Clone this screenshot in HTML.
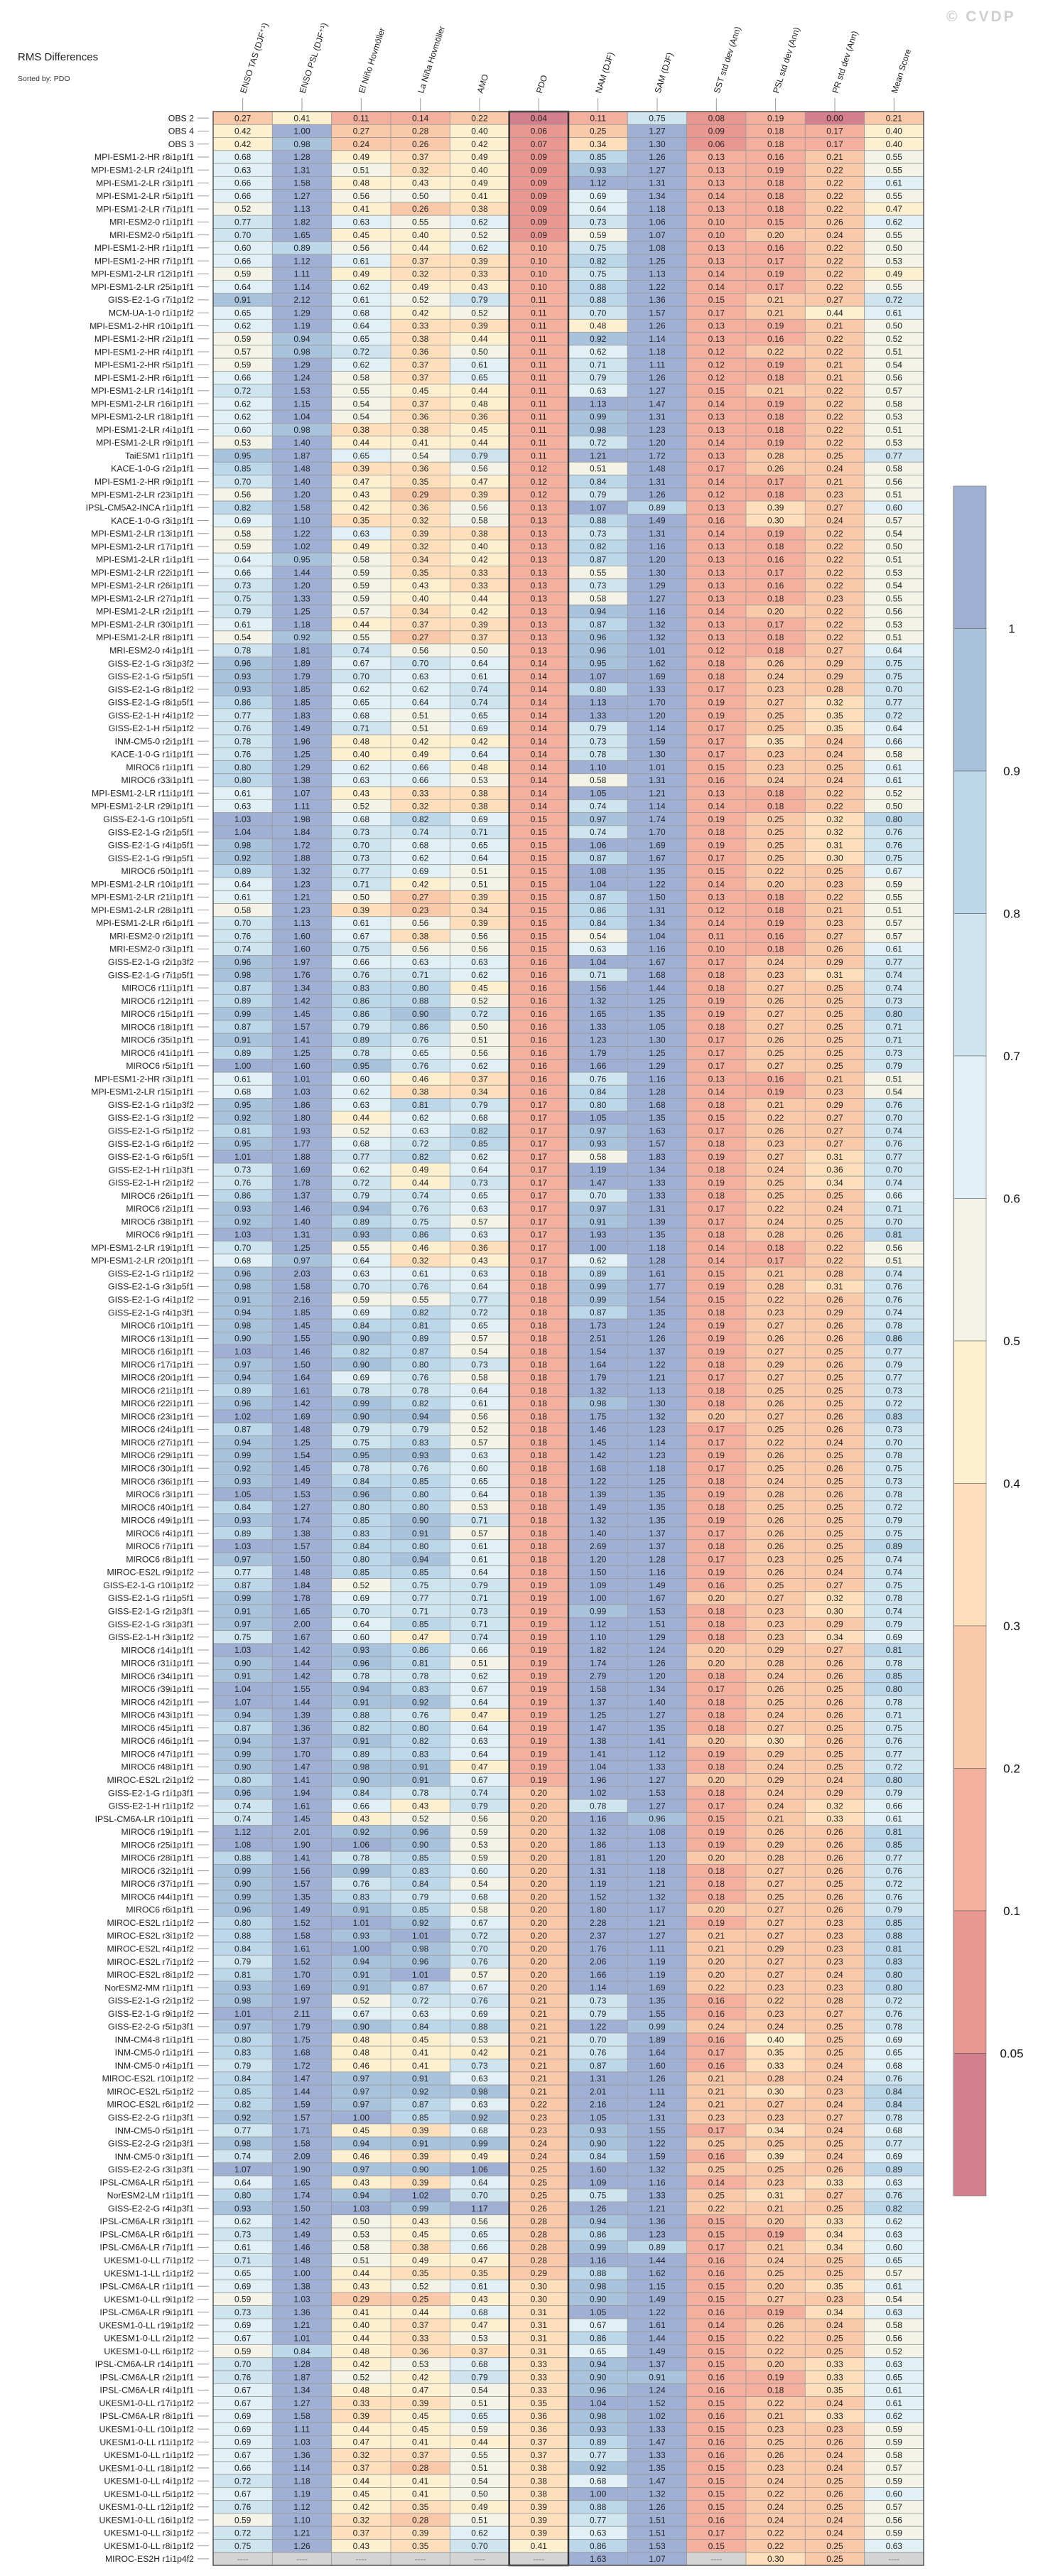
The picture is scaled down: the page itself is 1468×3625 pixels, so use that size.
<!DOCTYPE html>
<html>
<head>
<meta charset="utf-8">
<style>
  html,body{margin:0;padding:0;background:#fff;}
  body{width:1468px;height:3620px;overflow:hidden;font-family:"Liberation Sans",sans-serif;}
  svg text{font-family:"Liberation Sans",sans-serif;}
</style>
</head>
<body>
<svg id="chart" width="1468" height="3620" viewBox="0 0 1468 3620" xmlns="http://www.w3.org/2000/svg">
  <text x="25" y="85" font-size="15" fill="#222">RMS Differences</text>
  <text x="25" y="114" font-size="10.5" fill="#333">Sorted by: PDO</text>
  <text x="1332" y="30" font-size="21" font-weight="bold" fill="#cfcfcf" letter-spacing="3">© CVDP</text>
  <g id="header"></g>
  <g id="labels"></g>
  <g id="cells"></g>
  <g id="colorbar"></g>
</svg>
<script>
const columnLabels = ["ENSO TAS (DJF\u207A\u00B9)","ENSO PSL (DJF\u207A\u00B9)","El Ni\u00F1o Hovm\u00F6ller","La Ni\u00F1a Hovm\u00F6ller","AMO","PDO","NAM (DJF)","SAM (DJF)","SST std dev (Ann)","PSL std dev (Ann)","PR std dev (Ann)","Mean Score"];
const rowLabels = [
"OBS 2","OBS 4","OBS 3","MPI-ESM1-2-HR r8i1p1f1","MPI-ESM1-2-LR r24i1p1f1","MPI-ESM1-2-LR r3i1p1f1","MPI-ESM1-2-LR r5i1p1f1","MPI-ESM1-2-LR r7i1p1f1","MRI-ESM2-0 r1i1p1f1","MRI-ESM2-0 r5i1p1f1",
"MPI-ESM1-2-HR r1i1p1f1","MPI-ESM1-2-HR r7i1p1f1","MPI-ESM1-2-LR r12i1p1f1","MPI-ESM1-2-LR r25i1p1f1","GISS-E2-1-G r7i1p1f2","MCM-UA-1-0 r1i1p1f2","MPI-ESM1-2-HR r10i1p1f1","MPI-ESM1-2-HR r2i1p1f1","MPI-ESM1-2-HR r4i1p1f1","MPI-ESM1-2-HR r5i1p1f1",
"MPI-ESM1-2-HR r6i1p1f1","MPI-ESM1-2-LR r14i1p1f1","MPI-ESM1-2-LR r16i1p1f1","MPI-ESM1-2-LR r18i1p1f1","MPI-ESM1-2-LR r4i1p1f1","MPI-ESM1-2-LR r9i1p1f1","TaiESM1 r1i1p1f1","KACE-1-0-G r2i1p1f1","MPI-ESM1-2-HR r9i1p1f1","MPI-ESM1-2-LR r23i1p1f1",
"IPSL-CM5A2-INCA r1i1p1f1","KACE-1-0-G r3i1p1f1","MPI-ESM1-2-LR r13i1p1f1","MPI-ESM1-2-LR r17i1p1f1","MPI-ESM1-2-LR r1i1p1f1","MPI-ESM1-2-LR r22i1p1f1","MPI-ESM1-2-LR r26i1p1f1","MPI-ESM1-2-LR r27i1p1f1","MPI-ESM1-2-LR r2i1p1f1","MPI-ESM1-2-LR r30i1p1f1",
"MPI-ESM1-2-LR r8i1p1f1","MRI-ESM2-0 r4i1p1f1","GISS-E2-1-G r3i1p3f2","GISS-E2-1-G r5i1p5f1","GISS-E2-1-G r8i1p1f2","GISS-E2-1-G r8i1p5f1","GISS-E2-1-H r4i1p1f2","GISS-E2-1-H r5i1p1f2","INM-CM5-0 r2i1p1f1","KACE-1-0-G r1i1p1f1",
"MIROC6 r1i1p1f1","MIROC6 r33i1p1f1","MPI-ESM1-2-LR r11i1p1f1","MPI-ESM1-2-LR r29i1p1f1","GISS-E2-1-G r10i1p5f1","GISS-E2-1-G r2i1p5f1","GISS-E2-1-G r4i1p5f1","GISS-E2-1-G r9i1p5f1","MIROC6 r50i1p1f1","MPI-ESM1-2-LR r10i1p1f1",
"MPI-ESM1-2-LR r21i1p1f1","MPI-ESM1-2-LR r28i1p1f1","MPI-ESM1-2-LR r6i1p1f1","MRI-ESM2-0 r2i1p1f1","MRI-ESM2-0 r3i1p1f1","GISS-E2-1-G r2i1p3f2","GISS-E2-1-G r7i1p5f1","MIROC6 r11i1p1f1","MIROC6 r12i1p1f1","MIROC6 r15i1p1f1",
"MIROC6 r18i1p1f1","MIROC6 r35i1p1f1","MIROC6 r41i1p1f1","MIROC6 r5i1p1f1","MPI-ESM1-2-HR r3i1p1f1","MPI-ESM1-2-LR r15i1p1f1","GISS-E2-1-G r1i1p3f2","GISS-E2-1-G r3i1p1f2","GISS-E2-1-G r5i1p1f2","GISS-E2-1-G r6i1p1f2",
"GISS-E2-1-G r6i1p5f1","GISS-E2-1-H r1i1p3f1","GISS-E2-1-H r2i1p1f2","MIROC6 r26i1p1f1","MIROC6 r2i1p1f1","MIROC6 r38i1p1f1","MIROC6 r9i1p1f1","MPI-ESM1-2-LR r19i1p1f1","MPI-ESM1-2-LR r20i1p1f1","GISS-E2-1-G r1i1p1f2",
"GISS-E2-1-G r3i1p5f1","GISS-E2-1-G r4i1p1f2","GISS-E2-1-G r4i1p3f1","MIROC6 r10i1p1f1","MIROC6 r13i1p1f1","MIROC6 r16i1p1f1","MIROC6 r17i1p1f1","MIROC6 r20i1p1f1","MIROC6 r21i1p1f1","MIROC6 r22i1p1f1",
"MIROC6 r23i1p1f1","MIROC6 r24i1p1f1","MIROC6 r27i1p1f1","MIROC6 r29i1p1f1","MIROC6 r30i1p1f1","MIROC6 r36i1p1f1","MIROC6 r3i1p1f1","MIROC6 r40i1p1f1","MIROC6 r49i1p1f1","MIROC6 r4i1p1f1",
"MIROC6 r7i1p1f1","MIROC6 r8i1p1f1","MIROC-ES2L r9i1p1f2","GISS-E2-1-G r10i1p1f2","GISS-E2-1-G r1i1p5f1","GISS-E2-1-G r2i1p3f1","GISS-E2-1-G r3i1p3f1","GISS-E2-1-H r3i1p1f2","MIROC6 r14i1p1f1","MIROC6 r31i1p1f1",
"MIROC6 r34i1p1f1","MIROC6 r39i1p1f1","MIROC6 r42i1p1f1","MIROC6 r43i1p1f1","MIROC6 r45i1p1f1","MIROC6 r46i1p1f1","MIROC6 r47i1p1f1","MIROC6 r48i1p1f1","MIROC-ES2L r2i1p1f2","GISS-E2-1-G r1i1p3f1",
"GISS-E2-1-H r1i1p1f2","IPSL-CM6A-LR r10i1p1f1","MIROC6 r19i1p1f1","MIROC6 r25i1p1f1","MIROC6 r28i1p1f1","MIROC6 r32i1p1f1","MIROC6 r37i1p1f1","MIROC6 r44i1p1f1","MIROC6 r6i1p1f1","MIROC-ES2L r1i1p1f2",
"MIROC-ES2L r3i1p1f2","MIROC-ES2L r4i1p1f2","MIROC-ES2L r7i1p1f2","MIROC-ES2L r8i1p1f2","NorESM2-MM r1i1p1f1","GISS-E2-1-G r2i1p1f2","GISS-E2-1-G r9i1p1f2","GISS-E2-2-G r5i1p3f1","INM-CM4-8 r1i1p1f1","INM-CM5-0 r1i1p1f1",
"INM-CM5-0 r4i1p1f1","MIROC-ES2L r10i1p1f2","MIROC-ES2L r5i1p1f2","MIROC-ES2L r6i1p1f2","GISS-E2-2-G r1i1p3f1","INM-CM5-0 r5i1p1f1","GISS-E2-2-G r2i1p3f1","INM-CM5-0 r3i1p1f1","GISS-E2-2-G r3i1p3f1","IPSL-CM6A-LR r5i1p1f1",
"NorESM2-LM r1i1p1f1","GISS-E2-2-G r4i1p3f1","IPSL-CM6A-LR r3i1p1f1","IPSL-CM6A-LR r6i1p1f1","IPSL-CM6A-LR r7i1p1f1","UKESM1-0-LL r7i1p1f2","UKESM1-1-LL r1i1p1f2","IPSL-CM6A-LR r1i1p1f1","UKESM1-0-LL r9i1p1f2","IPSL-CM6A-LR r9i1p1f1",
"UKESM1-0-LL r19i1p1f2","UKESM1-0-LL r2i1p1f2","UKESM1-0-LL r6i1p1f2","IPSL-CM6A-LR r14i1p1f1","IPSL-CM6A-LR r2i1p1f1","IPSL-CM6A-LR r4i1p1f1","UKESM1-0-LL r17i1p1f2","IPSL-CM6A-LR r8i1p1f1","UKESM1-0-LL r10i1p1f2","UKESM1-0-LL r11i1p1f2",
"UKESM1-0-LL r1i1p1f2","UKESM1-0-LL r18i1p1f2","UKESM1-0-LL r4i1p1f2","UKESM1-0-LL r5i1p1f2","UKESM1-0-LL r12i1p1f2","UKESM1-0-LL r16i1p1f2","UKESM1-0-LL r3i1p1f2","UKESM1-0-LL r8i1p1f2","MIROC-ES2H r1i1p4f2"
];
const cellValues = [
[.27,.41,.11,.14,.22,.04,.11,.75,.08,.19,.00,.21],
[.42,1.00,.27,.28,.40,.06,.25,1.27,.09,.18,.17,.40],
[.42,.98,.24,.26,.42,.07,.34,1.30,.06,.18,.17,.40],
[.68,1.28,.49,.37,.49,.09,.85,1.26,.13,.16,.21,.55],
[.63,1.31,.51,.32,.40,.09,.93,1.27,.13,.19,.22,.55],
[.66,1.58,.48,.43,.49,.09,1.12,1.31,.13,.18,.22,.61],
[.66,1.27,.56,.50,.41,.09,.69,1.34,.14,.18,.22,.55],
[.52,1.13,.41,.26,.38,.09,.64,1.18,.13,.18,.22,.47],
[.77,1.82,.63,.55,.62,.09,.73,1.06,.10,.15,.26,.62],
[.70,1.65,.45,.40,.52,.09,.59,1.07,.10,.20,.24,.55],
[.60,.89,.56,.44,.62,.10,.75,1.08,.13,.16,.22,.50],
[.66,1.12,.61,.37,.39,.10,.82,1.25,.13,.17,.22,.53],
[.59,1.11,.49,.32,.33,.10,.75,1.13,.14,.19,.22,.49],
[.64,1.14,.62,.49,.43,.10,.88,1.22,.14,.17,.22,.55],
[.91,2.12,.61,.52,.79,.11,.88,1.36,.15,.21,.27,.72],
[.65,1.29,.68,.42,.52,.11,.70,1.57,.17,.21,.44,.61],
[.62,1.19,.64,.33,.39,.11,.48,1.26,.13,.19,.21,.50],
[.59,.94,.65,.38,.44,.11,.92,1.14,.13,.16,.22,.52],
[.57,.98,.72,.36,.50,.11,.62,1.18,.12,.22,.22,.51],
[.59,1.29,.62,.37,.61,.11,.71,1.11,.12,.19,.21,.54],
[.66,1.24,.58,.37,.65,.11,.79,1.26,.12,.18,.21,.56],
[.72,1.53,.55,.45,.44,.11,.63,1.27,.15,.21,.22,.57],
[.62,1.15,.54,.37,.48,.11,1.13,1.47,.14,.19,.22,.58],
[.62,1.04,.54,.36,.36,.11,.99,1.31,.13,.18,.22,.53],
[.60,.98,.38,.38,.45,.11,.98,1.23,.13,.18,.22,.51],
[.53,1.40,.44,.41,.44,.11,.72,1.20,.14,.19,.22,.53],
[.95,1.87,.65,.54,.79,.11,1.21,1.72,.13,.28,.25,.77],
[.85,1.48,.39,.36,.56,.12,.51,1.48,.17,.26,.24,.58],
[.70,1.40,.47,.35,.47,.12,.84,1.31,.14,.17,.21,.56],
[.56,1.20,.43,.29,.39,.12,.79,1.26,.12,.18,.23,.51],
[.82,1.58,.42,.36,.56,.13,1.07,.89,.13,.39,.27,.60],
[.69,1.10,.35,.32,.58,.13,.88,1.49,.16,.30,.24,.57],
[.58,1.22,.63,.39,.38,.13,.73,1.31,.14,.19,.22,.54],
[.59,1.02,.49,.32,.40,.13,.82,1.16,.13,.18,.22,.50],
[.64,.95,.58,.34,.42,.13,.87,1.20,.13,.16,.22,.51],
[.66,1.44,.59,.35,.33,.13,.55,1.30,.13,.17,.22,.53],
[.73,1.20,.59,.43,.33,.13,.73,1.29,.13,.16,.22,.54],
[.75,1.33,.59,.40,.44,.13,.58,1.27,.13,.18,.23,.55],
[.79,1.25,.57,.34,.42,.13,.94,1.16,.14,.20,.22,.56],
[.61,1.18,.44,.37,.39,.13,.87,1.32,.13,.17,.22,.53],
[.54,.92,.55,.27,.37,.13,.96,1.32,.13,.18,.22,.51],
[.78,1.81,.74,.56,.50,.13,.96,1.01,.12,.18,.27,.64],
[.96,1.89,.67,.70,.64,.14,.95,1.62,.18,.26,.29,.75],
[.93,1.79,.70,.63,.61,.14,1.07,1.69,.18,.24,.29,.75],
[.93,1.85,.62,.62,.74,.14,.80,1.33,.17,.23,.28,.70],
[.86,1.85,.65,.64,.74,.14,1.13,1.70,.19,.27,.32,.77],
[.77,1.83,.68,.51,.65,.14,1.33,1.20,.19,.25,.35,.72],
[.76,1.49,.71,.51,.69,.14,.79,1.14,.17,.25,.35,.64],
[.78,1.96,.48,.42,.42,.14,.73,1.59,.17,.35,.24,.66],
[.76,1.25,.40,.49,.64,.14,.78,1.30,.17,.23,.24,.58],
[.80,1.29,.62,.66,.48,.14,1.10,1.01,.15,.23,.25,.61],
[.80,1.38,.63,.66,.53,.14,.58,1.31,.16,.24,.24,.61],
[.61,1.07,.43,.33,.38,.14,1.05,1.21,.13,.18,.22,.52],
[.63,1.11,.52,.32,.38,.14,.74,1.14,.14,.18,.22,.50],
[1.03,1.98,.68,.82,.69,.15,.97,1.74,.19,.25,.32,.80],
[1.04,1.84,.73,.74,.71,.15,.74,1.70,.18,.25,.32,.76],
[.98,1.72,.70,.68,.65,.15,1.06,1.69,.19,.25,.31,.76],
[.92,1.88,.73,.62,.64,.15,.87,1.67,.17,.25,.30,.75],
[.89,1.32,.77,.69,.51,.15,1.08,1.35,.15,.22,.25,.67],
[.64,1.23,.71,.42,.51,.15,1.04,1.22,.14,.20,.23,.59],
[.61,1.21,.50,.27,.39,.15,.87,1.50,.13,.18,.22,.55],
[.58,1.23,.39,.23,.34,.15,.86,1.31,.12,.18,.21,.51],
[.70,1.13,.61,.56,.39,.15,.84,1.34,.14,.19,.23,.57],
[.76,1.60,.67,.38,.56,.15,.54,1.04,.11,.16,.27,.57],
[.74,1.60,.75,.56,.56,.15,.63,1.16,.10,.18,.26,.61],
[.96,1.97,.66,.63,.63,.16,1.04,1.67,.17,.24,.29,.77],
[.98,1.76,.76,.71,.62,.16,.71,1.68,.18,.23,.31,.74],
[.87,1.34,.83,.80,.45,.16,1.56,1.44,.18,.27,.25,.74],
[.89,1.42,.86,.88,.52,.16,1.32,1.25,.19,.26,.25,.73],
[.99,1.45,.86,.90,.72,.16,1.65,1.35,.19,.27,.25,.80],
[.87,1.57,.79,.86,.50,.16,1.33,1.05,.18,.27,.25,.71],
[.91,1.41,.89,.76,.51,.16,1.23,1.30,.17,.26,.25,.71],
[.89,1.25,.78,.65,.56,.16,1.79,1.25,.17,.25,.25,.73],
[1.00,1.60,.95,.76,.62,.16,1.66,1.29,.17,.27,.25,.79],
[.61,1.01,.60,.46,.37,.16,.76,1.16,.13,.16,.21,.51],
[.68,1.03,.62,.38,.34,.16,.84,1.28,.14,.19,.23,.54],
[.95,1.86,.63,.81,.79,.17,.80,1.68,.18,.21,.29,.76],
[.92,1.80,.44,.62,.68,.17,1.05,1.35,.15,.22,.27,.70],
[.81,1.93,.52,.63,.82,.17,.97,1.63,.17,.26,.27,.74],
[.95,1.77,.68,.72,.85,.17,.93,1.57,.18,.23,.27,.76],
[1.01,1.88,.77,.82,.62,.17,.58,1.83,.19,.27,.31,.77],
[.73,1.69,.62,.49,.64,.17,1.19,1.34,.18,.24,.36,.70],
[.76,1.78,.72,.44,.73,.17,1.47,1.33,.19,.25,.34,.74],
[.86,1.37,.79,.74,.65,.17,.70,1.33,.18,.25,.25,.66],
[.93,1.46,.94,.76,.63,.17,.97,1.31,.17,.22,.24,.71],
[.92,1.40,.89,.75,.57,.17,.91,1.39,.17,.24,.25,.70],
[1.03,1.31,.93,.86,.63,.17,1.93,1.35,.18,.28,.26,.81],
[.70,1.25,.55,.46,.36,.17,1.00,1.18,.14,.18,.22,.56],
[.68,.97,.64,.32,.43,.17,.62,1.28,.14,.17,.22,.51],
[.96,2.03,.63,.61,.63,.18,.89,1.61,.15,.21,.28,.74],
[.98,1.58,.70,.76,.64,.18,.99,1.77,.19,.28,.31,.76],
[.91,2.16,.59,.55,.77,.18,.99,1.54,.15,.22,.26,.76],
[.94,1.85,.69,.82,.72,.18,.87,1.35,.18,.23,.29,.74],
[.98,1.45,.84,.81,.65,.18,1.73,1.24,.19,.27,.26,.78],
[.90,1.55,.90,.89,.57,.18,2.51,1.26,.19,.26,.26,.86],
[1.03,1.46,.82,.87,.54,.18,1.54,1.37,.19,.27,.25,.77],
[.97,1.50,.90,.80,.73,.18,1.64,1.22,.18,.29,.26,.79],
[.94,1.64,.69,.76,.58,.18,1.79,1.21,.17,.27,.25,.77],
[.89,1.61,.78,.78,.64,.18,1.32,1.13,.18,.25,.25,.73],
[.96,1.42,.99,.82,.61,.18,.98,1.30,.18,.26,.25,.72],
[1.02,1.69,.90,.94,.56,.18,1.75,1.32,.20,.27,.26,.83],
[.87,1.48,.79,.79,.52,.18,1.46,1.23,.17,.25,.26,.73],
[.94,1.25,.75,.83,.57,.18,1.45,1.14,.17,.22,.24,.70],
[.99,1.54,.95,.93,.63,.18,1.42,1.23,.19,.26,.25,.78],
[.92,1.45,.78,.76,.60,.18,1.68,1.18,.17,.25,.26,.75],
[.93,1.49,.84,.85,.65,.18,1.22,1.25,.18,.24,.25,.73],
[1.05,1.53,.96,.80,.64,.18,1.39,1.35,.19,.28,.26,.78],
[.84,1.27,.80,.80,.53,.18,1.49,1.35,.18,.25,.25,.72],
[.93,1.74,.85,.90,.71,.18,1.32,1.35,.19,.26,.25,.79],
[.89,1.38,.83,.91,.57,.18,1.40,1.37,.17,.26,.25,.75],
[1.03,1.57,.84,.80,.61,.18,2.69,1.37,.18,.26,.25,.89],
[.97,1.50,.80,.94,.61,.18,1.20,1.28,.17,.23,.25,.74],
[.77,1.48,.85,.85,.64,.18,1.50,1.16,.19,.26,.24,.74],
[.87,1.84,.52,.75,.79,.19,1.09,1.49,.16,.25,.27,.75],
[.99,1.78,.69,.77,.71,.19,1.00,1.67,.20,.27,.32,.78],
[.91,1.65,.70,.71,.73,.19,.99,1.53,.18,.23,.30,.74],
[.97,2.00,.64,.85,.71,.19,1.12,1.51,.18,.23,.29,.79],
[.75,1.67,.60,.47,.74,.19,1.10,1.29,.18,.23,.34,.69],
[1.03,1.42,.93,.86,.66,.19,1.82,1.24,.20,.29,.27,.81],
[.90,1.44,.96,.81,.51,.19,1.74,1.26,.20,.28,.26,.78],
[.91,1.42,.78,.78,.62,.19,2.79,1.20,.18,.24,.26,.85],
[1.04,1.55,.94,.83,.67,.19,1.58,1.34,.17,.26,.25,.80],
[1.07,1.44,.91,.92,.64,.19,1.37,1.40,.18,.25,.26,.78],
[.94,1.39,.88,.76,.47,.19,1.25,1.27,.18,.24,.26,.71],
[.87,1.36,.82,.80,.64,.19,1.47,1.35,.18,.27,.25,.75],
[.94,1.37,.91,.82,.63,.19,1.38,1.41,.20,.30,.26,.76],
[.99,1.70,.89,.83,.64,.19,1.41,1.12,.19,.29,.25,.77],
[.90,1.47,.98,.91,.47,.19,1.04,1.33,.18,.24,.25,.72],
[.80,1.41,.90,.91,.67,.19,1.96,1.27,.20,.29,.24,.80],
[.96,1.94,.84,.78,.74,.20,1.02,1.53,.18,.24,.29,.79],
[.74,1.61,.66,.43,.79,.20,.78,1.27,.17,.24,.32,.66],
[.74,1.45,.43,.52,.56,.20,1.16,.96,.15,.21,.33,.61],
[1.12,2.01,.92,.96,.59,.20,1.32,1.08,.19,.26,.26,.81],
[1.08,1.90,1.06,.90,.53,.20,1.86,1.13,.19,.29,.26,.85],
[.88,1.41,.78,.85,.59,.20,1.81,1.20,.20,.28,.26,.77],
[.99,1.56,.99,.83,.60,.20,1.31,1.18,.18,.27,.26,.76],
[.90,1.57,.76,.84,.54,.20,1.19,1.21,.18,.27,.25,.72],
[.99,1.35,.83,.79,.68,.20,1.52,1.32,.18,.25,.26,.76],
[.96,1.49,.91,.85,.58,.20,1.80,1.17,.20,.27,.26,.79],
[.80,1.52,1.01,.92,.67,.20,2.28,1.21,.19,.27,.23,.85],
[.88,1.58,.93,1.01,.72,.20,2.37,1.27,.21,.27,.23,.88],
[.84,1.61,1.00,.98,.70,.20,1.76,1.11,.21,.29,.23,.81],
[.79,1.52,.94,.96,.76,.20,2.06,1.19,.20,.27,.23,.83],
[.81,1.70,.91,1.01,.57,.20,1.66,1.19,.20,.27,.24,.80],
[.93,1.69,.91,.87,.67,.20,1.14,1.69,.22,.23,.23,.80],
[.98,1.97,.52,.72,.76,.21,.73,1.35,.16,.22,.28,.72],
[1.01,2.11,.67,.63,.69,.21,.79,1.55,.16,.23,.27,.76],
[.97,1.79,.90,.84,.88,.21,1.22,.99,.24,.24,.25,.78],
[.80,1.75,.48,.45,.53,.21,.70,1.89,.16,.40,.25,.69],
[.83,1.68,.48,.41,.42,.21,.76,1.64,.17,.35,.25,.65],
[.79,1.72,.46,.41,.73,.21,.87,1.60,.16,.33,.24,.68],
[.84,1.47,.97,.91,.63,.21,1.31,1.26,.21,.28,.24,.76],
[.85,1.44,.97,.92,.98,.21,2.01,1.11,.21,.30,.23,.84],
[.82,1.59,.97,.87,.63,.22,2.16,1.24,.21,.27,.24,.84],
[.92,1.57,1.00,.85,.92,.23,1.05,1.31,.23,.23,.27,.78],
[.77,1.71,.45,.39,.68,.23,.93,1.55,.17,.34,.24,.68],
[.98,1.58,.94,.91,.99,.24,.90,1.22,.25,.25,.25,.77],
[.74,2.09,.46,.39,.49,.24,.84,1.59,.16,.39,.24,.69],
[1.07,1.90,.97,.90,1.06,.25,1.60,1.32,.25,.25,.26,.89],
[.64,1.65,.43,.39,.64,.25,1.09,1.16,.14,.23,.33,.63],
[.80,1.74,.94,1.02,.70,.25,.75,1.33,.25,.31,.27,.76],
[.93,1.50,1.03,.99,1.17,.26,1.26,1.21,.22,.21,.25,.82],
[.62,1.42,.50,.43,.56,.28,.94,1.36,.15,.20,.33,.62],
[.73,1.49,.53,.45,.65,.28,.86,1.23,.15,.19,.34,.63],
[.61,1.46,.58,.38,.66,.28,.99,.89,.17,.21,.34,.60],
[.71,1.48,.51,.49,.47,.28,1.16,1.44,.16,.24,.25,.65],
[.65,1.00,.44,.35,.35,.29,.88,1.62,.16,.25,.25,.57],
[.69,1.38,.43,.52,.61,.30,.98,1.15,.15,.20,.35,.61],
[.59,1.03,.29,.25,.43,.30,.90,1.49,.15,.27,.23,.54],
[.73,1.36,.41,.44,.68,.31,1.05,1.22,.16,.19,.34,.63],
[.69,1.21,.40,.37,.47,.31,.67,1.61,.14,.26,.24,.58],
[.67,1.01,.44,.33,.53,.31,.86,1.44,.15,.22,.25,.56],
[.59,.84,.48,.36,.37,.31,.65,1.49,.15,.22,.25,.52],
[.70,1.28,.42,.53,.68,.33,.94,1.37,.15,.20,.33,.63],
[.76,1.87,.52,.42,.79,.33,.90,.91,.16,.19,.33,.65],
[.67,1.34,.48,.47,.54,.33,.96,1.24,.16,.18,.35,.61],
[.67,1.27,.33,.39,.51,.35,1.04,1.52,.15,.22,.24,.61],
[.69,1.58,.39,.45,.65,.36,.98,1.02,.16,.21,.33,.62],
[.69,1.11,.44,.45,.59,.36,.93,1.33,.15,.23,.23,.59],
[.69,1.03,.47,.41,.44,.37,.89,1.47,.16,.25,.26,.59],
[.67,1.36,.32,.37,.55,.37,.77,1.33,.16,.26,.24,.58],
[.66,1.14,.37,.28,.51,.38,.92,1.35,.15,.23,.24,.57],
[.72,1.18,.44,.41,.54,.38,.68,1.47,.15,.24,.25,.59],
[.67,1.19,.45,.41,.50,.38,1.00,1.32,.15,.22,.26,.60],
[.76,1.12,.42,.35,.49,.39,.88,1.26,.15,.24,.25,.57],
[.59,1.10,.32,.28,.51,.39,.77,1.51,.16,.24,.24,.56],
[.72,1.21,.37,.39,.62,.39,.63,1.51,.17,.22,.24,.59],
[.75,1.26,.43,.35,.70,.41,.86,1.53,.15,.22,.25,.63],
[null,null,null,null,null,null,1.63,1.07,null,.30,.25,null]
];
const colorbarLabels = ["1","0.9","0.8","0.7","0.6","0.5","0.4","0.3","0.2","0.1","0.05"];
const binEdges = [1,0.9,0.8,0.7,0.6,0.5,0.4,0.3,0.2,0.1,0.05];
const binColors = ["#9fb0d4","#a9c3dd","#bbd7e9","#cee5ef","#e1f0f5","#f3f3e8","#fdf0d0","#fde0bb","#f9c9a9","#f4b09e","#e99790","#d47f8e"];

const NS = "http://www.w3.org/2000/svg";
const TABLE_L = 300, TABLE_T = 157, COL_W = 83.33, ROW_H = 18.27;
const xCol = c => TABLE_L + c * COL_W;
const yRow = r => TABLE_T + r * ROW_H;
function colorFor(v){
  if (v === null) return "#d4d4d4";
  for (let i = 0; i < binEdges.length; i++) { if (v >= binEdges[i] - 1e-9) return binColors[i]; }
  return binColors[binColors.length - 1];
}
function mk(tag, attrs){ const e = document.createElementNS(NS, tag); for (const k in attrs) e.setAttribute(k, attrs[k]); return e; }

const header = document.getElementById("header");
columnLabels.forEach((lab, c) => {
  const cx = xCol(c) + COL_W / 2;
  const t = mk("text", {x: cx + 4, y: 132, "font-size": 12, fill: "#222", transform: `rotate(-72 ${cx + 4} 132)`});
  t.textContent = lab;
  
  
  header.appendChild(t);
  const tk = mk("line", {x1: cx, x2: cx, y1: 138, y2: TABLE_T, stroke: "#999", "stroke-width": 1});
  
  
  header.appendChild(tk);
});

const labels = document.getElementById("labels");
const cells = document.getElementById("cells");
rowLabels.forEach((lab, r) => {
  const cy = yRow(r) + ROW_H / 2;
  const t = mk("text", {x: 273, y: cy + 4.3, "font-size": 12.3, fill: "#222", "text-anchor": "end"});
  t.textContent = lab;
  
  
  labels.appendChild(t);
  const tk = mk("line", {x1: 278, x2: 294, y1: cy, y2: cy, stroke: "#999", "stroke-width": 1});
  
  
  labels.appendChild(tk);
  const vals = cellValues[r];
  vals.forEach((v, c) => {
    const rect = mk("rect", {x: xCol(c), y: yRow(r), width: COL_W, height: ROW_H, fill: colorFor(v), stroke: "#9a9a9a", "stroke-width": 0.8});
    
    
    cells.appendChild(rect);
    const tx = mk("text", {x: xCol(c) + COL_W / 2, y: yRow(r) + ROW_H / 2 + 4.2, "font-size": 12, fill: v === null ? "#777" : "#222", "text-anchor": "middle"});
    tx.textContent = v === null ? "----" : v.toFixed(2);
    
    
    cells.appendChild(tx);
  });
});
const tableB = yRow(rowLabels.length);
const pdo = mk("rect", {x: xCol(5), y: TABLE_T, width: COL_W, height: tableB - TABLE_T, fill: "none", stroke: "#333", "stroke-width": 2.5});


cells.appendChild(pdo);
const outer = mk("rect", {x: TABLE_L, y: TABLE_T, width: COL_W * 12, height: tableB - TABLE_T, fill: "none", stroke: "#555", "stroke-width": 1.5});


cells.appendChild(outer);

const cb = document.getElementById("colorbar");
const CB_X = 1342, CB_W = 46, CB_T = 684, BAND_H = 200.5;
binColors.forEach((col, i) => {
  const r = mk("rect", {x: CB_X, y: CB_T + i * BAND_H, width: CB_W, height: BAND_H, fill: col, stroke: "#555", "stroke-width": 0.5});
  
  
  cb.appendChild(r);
});
const edge = mk("rect", {x: CB_X - 1, y: CB_T, width: 2, height: BAND_H * binColors.length, fill: "#aaa"});


cb.appendChild(edge);
colorbarLabels.forEach((lab, i) => {
  const t = mk("text", {x: 1424, y: CB_T + (i + 1) * BAND_H + 6, "font-size": 17, fill: "#111", "text-anchor": "middle"});
  t.textContent = lab;
  
  
  cb.appendChild(t);
});
</script>
</body>
</html>
